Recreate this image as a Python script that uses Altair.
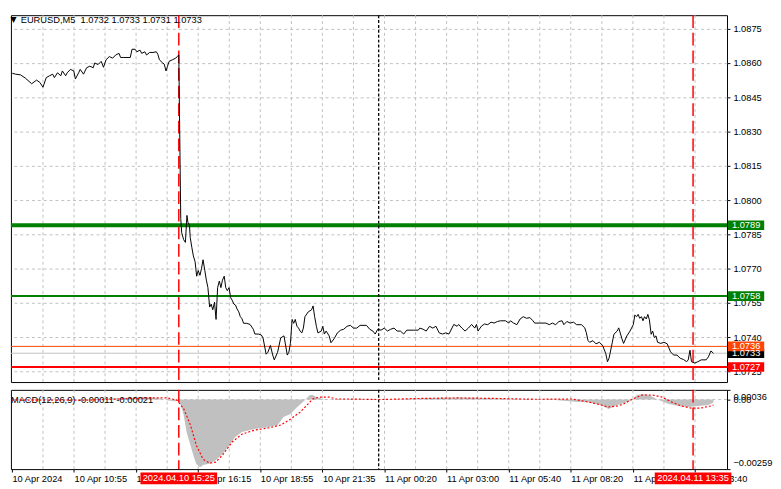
import altair as alt
import pandas as pd

# ---------------- data ----------------
# close prices (bar index counted in 5-minute bars from 10 Apr 08:15)
bars = [
    0.2, 1.9, 4.4, 6.9, 10.2, 12.7, 14.4, 16.0, 17.7, 19.4, 21.0, 21.9, 23.5, 25.2, 26.0,
    27.7, 28.5, 30.2, 31.9, 32.7, 34.4, 35.2, 36.9, 38.5, 40.2, 41.9, 42.7, 44.4, 46.0, 47.2,
    48.5, 50.2, 51.9, 53.5, 55.2, 56.0, 57.7, 61.0, 61.9, 63.5, 64.4, 66.0, 66.9, 68.5, 69.4,
    71.0, 72.7, 74.4, 75.2, 76.0, 77.7, 78.5, 79.4, 80.2, 81.0, 82.7, 84.4, 85.2, 86.0,
    87.0, 87.5, 88.5, 89.4, 90.2, 90.7, 91.5, 91.9, 92.7, 93.5, 94.4, 95.2, 96.0, 96.9, 97.7,
    98.5, 99.4, 100.2, 101.0, 101.9, 102.7, 103.5, 104.4, 105.2, 106.0, 106.9, 107.7, 108.5,
    109.4, 110.2, 111.0, 111.9, 112.7, 113.5, 114.4, 115.2, 116.0, 116.9, 117.7, 118.5, 119.4,
    121.0, 122.7, 124.4, 125.2, 126.9, 128.5, 129.4, 131.0, 131.9, 133.2, 134.4, 135.2, 136.9,
    138.5, 140.2, 141.9, 142.7, 143.5, 144.4, 145.2, 146.0, 146.9, 147.7,
    148.5, 149.4, 150.2, 151.0, 152.7, 154.4, 155.2, 156.0, 156.9, 157.7, 159.4, 160.2, 161.0,
    161.9, 163.5, 164.4, 166.0, 167.7, 169.4, 171.0, 172.7, 174.4, 176.0, 177.7, 179.4, 182.7,
    184.4, 186.0, 187.2, 188.5, 190.2, 191.9, 193.5, 195.2, 196.9, 198.5, 200.2, 201.9, 203.5,
    206.9, 209.4, 210.2, 211.9, 213.5, 215.2, 216.9, 218.5, 220.2, 221.9, 223.5, 225.2, 226.0,
    227.7, 229.4, 230.2, 231.9, 233.5, 235.2, 236.9, 238.5, 239.4, 240.2, 241.9,
    243.5, 245.2, 246.9, 248.5, 250.2, 251.9, 254.4, 256.0, 256.9, 258.5, 260.2, 261.9, 263.5,
    265.2, 266.9, 268.5, 269.4, 271.9, 275.2, 276.9, 278.5, 280.2, 281.9, 283.5, 284.4, 286.0,
    287.7, 289.4, 291.0, 293.5, 295.2, 296.0, 296.9, 297.7, 299.4, 301.0, 302.7, 304.4, 306.0,
    306.9, 307.7, 309.4, 310.2, 311.9, 312.7, 314.4, 315.2, 316.9, 318.5, 320.2, 321.0, 321.9,
    322.7, 323.5, 324.4, 325.2, 326.0, 326.9, 327.7, 328.5, 329.4, 330.2, 331.0, 331.9, 332.7,
    334.4, 336.0, 337.7, 339.4, 341.0, 342.7, 344.4, 346.0, 347.7, 348.5, 349.4, 350.2, 351.9,
    353.5, 355.2, 357.7, 358.9, 360.2, 361.5,
]
closes = [
    1.08555, 1.08551, 1.08548, 1.08534, 1.08509, 1.08525, 1.08515, 1.08494, 1.08536, 1.08544,
    1.08551, 1.08536, 1.08557, 1.08544, 1.08565, 1.08544, 1.08557, 1.08572, 1.08565, 1.08530,
    1.08557, 1.08572, 1.08551, 1.08579, 1.08586, 1.08579, 1.08600, 1.08593, 1.08607, 1.08581,
    1.08614, 1.08628, 1.08621, 1.08635, 1.08642, 1.08624, 1.08624, 1.08624, 1.08660, 1.08660,
    1.08649, 1.08656, 1.08642, 1.08649, 1.08635, 1.08646, 1.08646, 1.08649, 1.08638, 1.08614,
    1.08600, 1.08595, 1.08565, 1.08586, 1.08607, 1.08614, 1.08621, 1.08628, 1.08635,
    1.07920, 1.07857, 1.07827, 1.07815, 1.07933, 1.07903, 1.07890, 1.07836, 1.07794, 1.07756,
    1.07730, 1.07667, 1.07692, 1.07671, 1.07701, 1.07739, 1.07692, 1.07650, 1.07617, 1.07532,
    1.07545, 1.07520, 1.07553, 1.07478, 1.07617, 1.07646, 1.07617, 1.07650, 1.07667, 1.07617,
    1.07604, 1.07617, 1.07574, 1.07562, 1.07545, 1.07541, 1.07524, 1.07511, 1.07490, 1.07482,
    1.07461, 1.07461, 1.07456, 1.07435, 1.07414, 1.07414, 1.07410, 1.07397, 1.07326, 1.07334,
    1.07364, 1.07322, 1.07301, 1.07334, 1.07397, 1.07406, 1.07322, 1.07334, 1.07372, 1.07478,
    1.07461, 1.07478, 1.07448, 1.07440,
    1.07427, 1.07419, 1.07440, 1.07490, 1.07511, 1.07520, 1.07537, 1.07490, 1.07448, 1.07419,
    1.07427, 1.07448, 1.07414, 1.07427, 1.07406, 1.07376, 1.07393, 1.07419, 1.07431, 1.07435,
    1.07448, 1.07452, 1.07440, 1.07440, 1.07452, 1.07452, 1.07435, 1.07427, 1.07414, 1.07435,
    1.07431, 1.07440, 1.07427, 1.07435, 1.07440, 1.07427, 1.07427, 1.07414, 1.07431, 1.07431,
    1.07431, 1.07440, 1.07435, 1.07427, 1.07448, 1.07440, 1.07448, 1.07419, 1.07414, 1.07419,
    1.07414, 1.07427, 1.07456, 1.07448, 1.07456, 1.07440, 1.07427, 1.07440, 1.07456, 1.07440,
    1.07456, 1.07427, 1.07448,
    1.07458, 1.07455, 1.07466, 1.07462, 1.07469, 1.07472, 1.07472, 1.07462, 1.07472, 1.07462,
    1.07455, 1.07480, 1.07490, 1.07483, 1.07486, 1.07472, 1.07462, 1.07462, 1.07462, 1.07455,
    1.07462, 1.07455, 1.07469, 1.07472, 1.07455, 1.07469, 1.07462, 1.07466, 1.07455, 1.07455,
    1.07441, 1.07420, 1.07385, 1.07378, 1.07385, 1.07371, 1.07378, 1.07364, 1.07329, 1.07293,
    1.07308, 1.07378, 1.07413, 1.07427, 1.07441, 1.07392, 1.07373, 1.07406, 1.07427, 1.07455,
    1.07497, 1.07490, 1.07500, 1.07483, 1.07490, 1.07472, 1.07490, 1.07480, 1.07500, 1.07476,
    1.07413, 1.07427, 1.07399, 1.07406, 1.07378, 1.07373, 1.07378, 1.07371, 1.07336, 1.07322,
    1.07322, 1.07308, 1.07303, 1.07293, 1.07301, 1.07343, 1.07293, 1.07287, 1.07293, 1.07301,
    1.07301, 1.07314, 1.07340, 1.07330,
]

# MACD main (histogram) and signal
macd_bars = [0, 20, 40, 50, 60, 70, 76, 80, 84, 86, 87, 88.5, 90, 92, 93.5, 95, 97, 98.5, 102,
             105, 108.5, 112, 115, 118.5, 125, 132, 137, 140, 143.5, 147, 150, 153.5, 155, 157,
             160, 165, 170, 180, 190, 200, 215, 230, 245, 260, 280, 290, 297, 303.5, 307.5, 312,
             317, 320, 322, 325, 328.5, 332, 335, 338.5, 343.5, 348.5, 353.5, 358.5, 361.5]
macd_vals = [-0.00001, -0.00002, 0.00001, 0.00004, 0.00007, 0.00008, 0.00005, -0.00003, -0.00006,
             -0.00004, -0.00020, -0.00058, -0.00121, -0.00170, -0.00207, -0.00240, -0.00252,
             -0.00244, -0.00238, -0.00226, -0.00203, -0.00170, -0.00140, -0.00121, -0.00110,
             -0.00103, -0.00095, -0.00065, -0.00054, -0.00028, -0.00009, 0.00017, 0.00017,
             0.00009, 0.00002, -0.00002, 0.00002, 0.00001, 0.00000, 0.00002, 0.00006, 0.00008,
             0.00006, 0.00002, -0.00002, -0.00008, -0.00010, -0.00020, -0.00035, -0.00020,
             -0.00009, 0.00002, 0.00017, 0.00021, 0.00017, 0.00002, -0.00006, -0.00017,
             -0.00024, -0.00028, -0.00024, -0.00021, -0.00011]
signal_bars = [0, 40, 70, 80, 85, 88.5, 92, 95, 98.5, 102, 105, 108.5, 113.5, 118.5, 125, 132,
               138.5, 143.5, 148.5, 152, 155, 158.5, 163.5, 167, 173.5, 190, 210, 230, 250, 270,
               288.5, 297, 303.5, 307, 312, 315, 320, 325, 330, 335, 340, 345, 350, 355, 360, 361.5]
signal_vals = [-0.00002, -0.00002, 0.00006, 0.00006, -0.00002, -0.00034, -0.00095, -0.00170,
               -0.00222, -0.00237, -0.00233, -0.00207, -0.00158, -0.00129, -0.00114, -0.00106,
               -0.00095, -0.00073, -0.00047, -0.00021, 0.00002, 0.00009, 0.00009, 0.00002,
               0.00002, 0.00000, 0.00004, 0.00006, 0.00004, 0.00001, 0.00002, -0.00009,
               -0.00020, -0.00028, -0.00024, -0.00017, 0.00002, 0.00017, 0.00017, 0.00009,
               -0.00009, -0.00024, -0.00032, -0.00032, -0.00024, -0.00021]

# horizontal levels (drawing order of the right-side price boxes)
level_prices = [1.0789, 1.0758, 1.0733, 1.0736, 1.0727]
level_line_colors = ["#008000", "#008000", "#c0c0c0", "#ff4500", "#ff0000"]
level_line_widths = [4, 2, 1, 1, 2]
level_box_colors = ["#008000", "#008000", "#000000", "#ff4500", "#ff0000"]

price_ticks = [1.0875, 1.0860, 1.0845, 1.0830, 1.0815, 1.0800, 1.0785, 1.0770, 1.0755, 1.0740, 1.0725]
macd_ticks = [0.00036, 0.0, -0.00259]

time_tick_bars = [0, 32, 64, 96, 128, 160, 192, 224, 256, 288, 320, 352]
time_tick_labels = ["10 Apr 2024", "10 Apr 10:55", "10 Apr 13:35", "10 Apr 16:15", "10 Apr 18:55",
                    "10 Apr 21:35", "11 Apr 00:20", "11 Apr 03:00", "11 Apr 05:40", "11 Apr 08:20",
                    "11 Apr 11:00", "11 Apr 13:40"]
grid_bars = [16, 32, 48, 64, 80, 96, 112, 128, 144, 160, 176, 192, 208, 224, 240, 256, 272, 288,
             304, 320, 336, 352]
event_bars = [86, 351]
event_labels = ["2024.04.10 15:25", "2024.04.11 13:35"]
day_separator_bars = [189]

symbol_text = "EURUSD,M5\u00a0 1.0732 1.0733 1.0731 1.0733"
macd_text = "MACD(12,26,9) -0.00011 -0.00021"

# ---------------- layout ----------------
W = 732
H_MAIN = 375
H_MACD = 81
FONT = "Liberation Sans"
FS = 9.5

price_df = pd.DataFrame({"t": bars, "close": closes})
macd_df = pd.DataFrame({"t": macd_bars, "macd": macd_vals})
sig_df = pd.DataFrame({"t": signal_bars, "signal": signal_vals})
grid_df = pd.DataFrame({"t": grid_bars})
lvl_df = pd.DataFrame({"price": level_prices, "line_color": level_line_colors,
                       "width": level_line_widths, "box_color": level_box_colors})
event_df = pd.DataFrame({"t": event_bars, "label": event_labels})
sep_df = pd.DataFrame({"t": day_separator_bars})

x_scale = alt.Scale(domain=[-0.5, 368.5], nice=False, zero=False)
p_scale = alt.Scale(domain=[1.07204, 1.08809], nice=False, zero=False)
m_scale = alt.Scale(domain=[-0.00259, 0.00036], nice=False, zero=False)

p_axis = alt.Axis(orient="right", values=price_ticks, format=".4f", title=None, grid=True,
                  gridColor="#c0c0c0", gridDash=[3, 3], tickSize=3, labelPadding=3,
                  domain=False, labelOverlap=False)
m_axis = alt.Axis(orient="right", values=macd_ticks, title=None, grid=False, tickSize=3,
                  labelPadding=3, domain=False, labelOverlap=False, labelFlush=True,
                  labelFlushOffset=-2,
                  labelExpr="datum.value == 0 ? '0.00' : format(datum.value, '.5f')")
t_label_array = "[" + ",".join("'" + s + "'" for s in time_tick_labels) + "]"
t_axis = alt.Axis(values=time_tick_bars, title=None, grid=False, tickSize=3, labelPadding=2,
                  domain=False, labelOverlap=False, labelFlush=False, labelAlign="left",
                  labelExpr=t_label_array + "[round(datum.value / 32)]")

# ---------- main price panel ----------
xt = alt.X("t:Q", scale=x_scale, axis=None)

grid_top = alt.Chart(grid_df).mark_rule(color="#c0c0c0", strokeDash=[3, 3], strokeWidth=1).encode(x=xt)
levels = alt.Chart(lvl_df).mark_rule().encode(
    y=alt.Y("price:Q", scale=p_scale, axis=p_axis),
    color=alt.Color("line_color:N", scale=None),
    strokeWidth=alt.StrokeWidth("width:Q", scale=None),
)
sep_top = alt.Chart(sep_df).mark_rule(color="black", strokeDash=[3, 2], strokeWidth=1.3).encode(x=xt)
events_top = alt.Chart(event_df).mark_rule(color="#ff0000", strokeDash=[13, 5], strokeWidth=1.5).encode(x=xt)
price_line = alt.Chart(price_df).mark_line(color="black", strokeWidth=1).encode(
    x=xt, y=alt.Y("close:Q", scale=p_scale, axis=p_axis)
)
tri = alt.Chart(pd.DataFrame({"s": ["\u25bc"]})).mark_text(
    font="DejaVu Sans", fontSize=8, align="center", baseline="middle", color="black"
).encode(x=alt.value(2.5), y=alt.value(4.5), text="s:N")
title_txt = alt.Chart(pd.DataFrame({"s": [symbol_text]})).mark_text(
    font=FONT, fontSize=FS, align="left", baseline="middle", color="black"
).encode(x=alt.value(10), y=alt.value(5), text="s:N")
boxes = alt.Chart(lvl_df).transform_calculate(
    lo="datum.price - 0.00021", hi="datum.price + 0.00021"
).mark_rect().encode(
    x=alt.value(W + 1), x2=alt.value(W + 38),
    y=alt.Y("lo:Q", scale=p_scale, axis=p_axis), y2="hi:Q",
    color=alt.Color("box_color:N", scale=None),
)
box_txt = alt.Chart(lvl_df).mark_text(
    font=FONT, fontSize=FS, align="left", baseline="middle", color="white"
).encode(
    x=alt.value(W + 5),
    y=alt.Y("price:Q", scale=p_scale, axis=p_axis),
    text=alt.Text("price:Q", format=".4f"),
)

top = alt.layer(grid_top, levels, sep_top, events_top, price_line, tri, title_txt, boxes, box_txt
                ).properties(width=W, height=H_MAIN)

# ---------- MACD panel ----------
xb = alt.X("t:Q", scale=x_scale, axis=t_axis)

grid_bot = alt.Chart(grid_df).mark_rule(color="#c0c0c0", strokeDash=[3, 3], strokeWidth=1).encode(x=xb)
zero_line = alt.Chart(pd.DataFrame({"v": [0.0]})).mark_rule(
    color="#c0c0c0", strokeDash=[3, 3], strokeWidth=1
).encode(y=alt.Y("v:Q", scale=m_scale, axis=m_axis))
hist = alt.Chart(macd_df).mark_area(color="#c0c0c0", opacity=1).encode(
    x=xb, y=alt.Y("macd:Q", scale=m_scale, axis=m_axis), y2=alt.datum(0)
)
sep_bot = alt.Chart(sep_df).mark_rule(color="black", strokeDash=[3, 2], strokeWidth=1.3).encode(x=xb)
events_bot = alt.Chart(event_df).mark_rule(color="#ff0000", strokeDash=[13, 5], strokeWidth=1.5).encode(x=xb)
macd_lbl = alt.Chart(pd.DataFrame({"s": [macd_text]})).mark_text(
    font=FONT, fontSize=FS, align="left", baseline="middle", color="black"
).encode(x=alt.value(0), y=alt.value(10), text="s:N")
sig_line = alt.Chart(sig_df).mark_line(color="#ff0000", strokeDash=[2, 2], strokeWidth=1.2).encode(
    x=xb, y=alt.Y("signal:Q", scale=m_scale, axis=m_axis)
)
ev_box = alt.Chart(event_df).transform_calculate(
    a="datum.t - 19.75", b="datum.t + 19.75"
).mark_rect(color="#ff0000").encode(
    x=alt.X("a:Q", scale=x_scale, axis=t_axis), x2="b:Q",
    y=alt.value(H_MACD + 3.5), y2=alt.value(H_MACD + 15.5),
)
ev_txt = alt.Chart(event_df).mark_text(
    font=FONT, fontSize=FS, align="center", baseline="middle", color="white"
).encode(x=xb, y=alt.value(H_MACD + 9.5), text="label:N")

bottom = alt.layer(grid_bot, zero_line, hist, sep_bot, events_bot, macd_lbl, sig_line, ev_box, ev_txt
                   ).properties(width=W, height=H_MACD)

chart = alt.vconcat(top, bottom, spacing=4).properties(
    padding=0, background="white"
).configure_view(
    stroke="black", strokeWidth=1
).configure_axis(
    labelFont=FONT, labelFontSize=FS, labelColor="black", tickColor="black", tickWidth=1
)

chart.save("out.html", embed_options={"renderer": "svg", "actions": False})
